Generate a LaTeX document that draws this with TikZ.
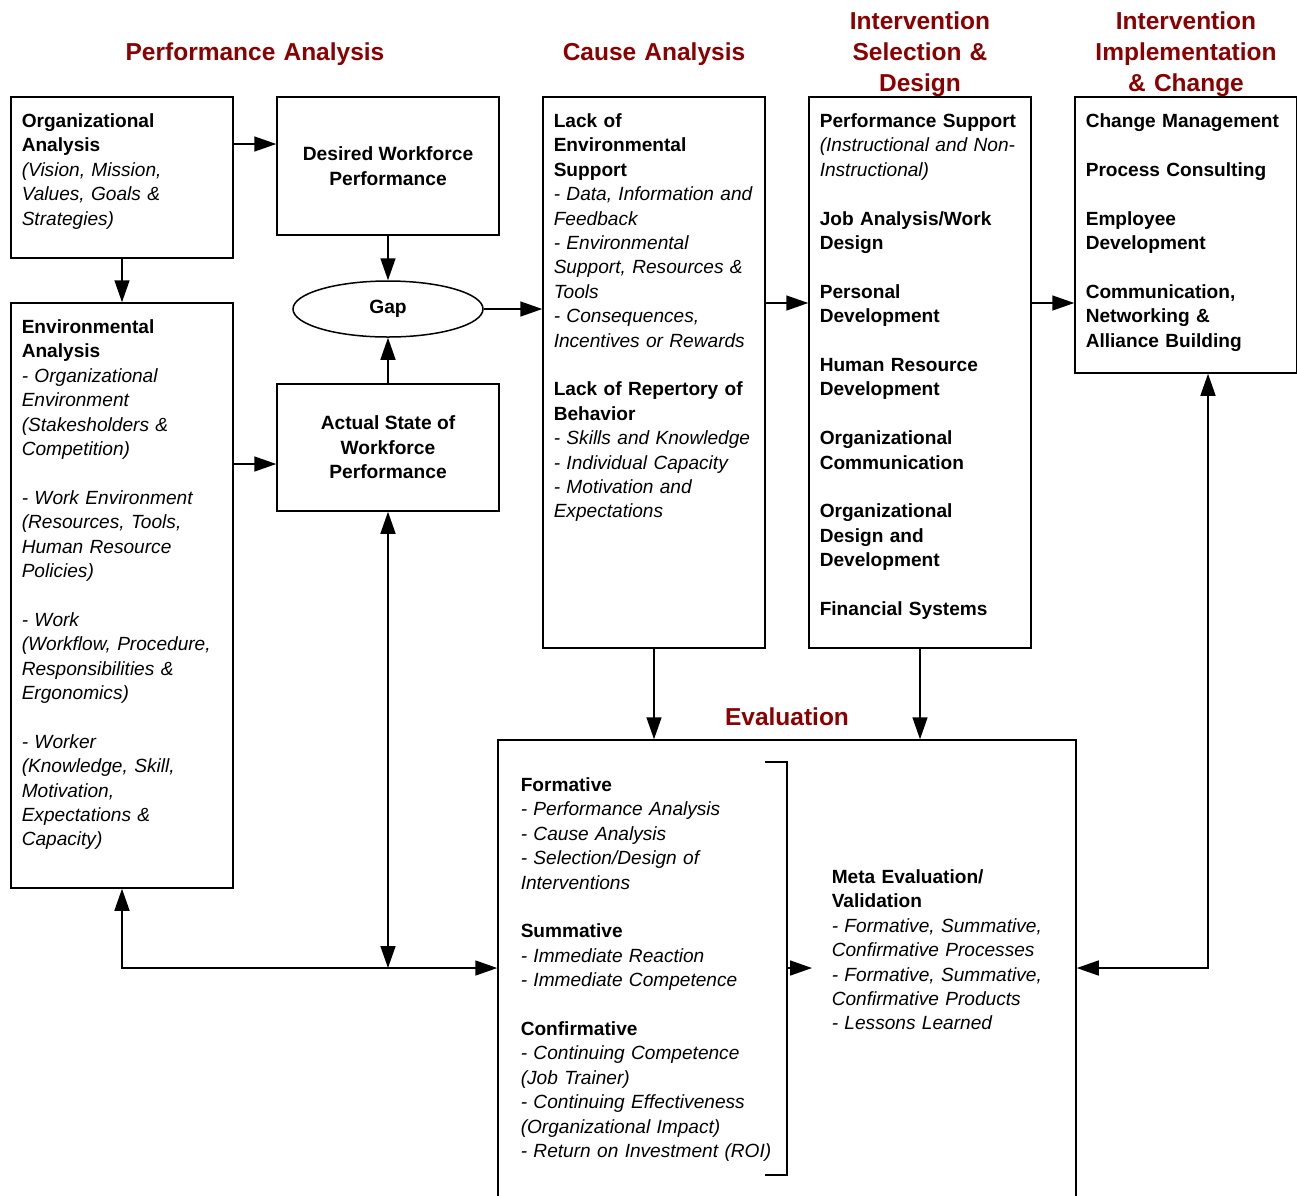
\documentclass[tikz,border=0pt]{standalone}
\usepackage{fontspec}
\setmainfont{Liberation Sans}
\usetikzlibrary{arrows.meta,shapes.geometric}
\definecolor{hdrred}{RGB}{139,0,0}
\tikzset{
  every picture/.style={line width=1.5pt},
  box/.style={draw=black, line width=1.5pt, rectangle, inner sep=0pt},
  ctext/.style={align=center, font=\fontsize{19.2}{24.4}\selectfont\bfseries},
  ltext/.style={anchor=base west, inner sep=0pt, text width=270pt, align=left, font=\fontsize{19.1}{24.4}\selectfont},
  hdr/.style={anchor=base, inner sep=0pt, text width=320pt, align=center, text=hdrred, font=\fontsize{24.5}{31}\selectfont\bfseries},
  arr/.style={-{Triangle[length=22pt,width=15pt]}},
  darr/.style={{Triangle[length=22pt,width=15pt]}-{Triangle[length=22pt,width=15pt]}}
}
\newcommand{\bl}{\\ \mbox{}\\}
\begin{document}
\begin{tikzpicture}[x=1pt,y=-1pt]
\useasboundingbox (0,0) rectangle (1297,1195);
\clip (0,0) rectangle (1297,1195);

% headers
\node[hdr] (hPA) at (255,60) {Performance Analysis};
\node[hdr] (hCA) at (654,60) {Cause Analysis};
\node[hdr] (hIS) at (920,29) {Intervention\\Selection \&\\Design};
\node[hdr] (hII) at (1186,29) {Intervention\\Implementation\\\& Change};
\node[hdr] (hEv) at (787,725) {Evaluation};

% boxes
\node[box, minimum width=222pt, minimum height=161pt] (org) at (122,177.5) {};
\node[box, ctext, minimum width=222pt, minimum height=138pt] (desired) at (388,166) {Desired Workforce\\Performance};
\node[box, minimum width=222pt, minimum height=585pt] (env) at (122,595.5) {};
\node[box, ctext, minimum width=222pt, minimum height=127pt] (actual) at (388,447.5) {Actual State of\\Workforce\\Performance};
\node[draw=black, line width=1.5pt, ellipse, ctext, inner sep=0pt, minimum width=190pt, minimum height=56pt] (gap) at (388,309) {Gap};
\node[box, minimum width=222pt, minimum height=551pt] (cause) at (654,372.5) {};
\node[box, minimum width=222pt, minimum height=551pt] (interv) at (920,372.5) {};
\node[box, minimum width=222pt, minimum height=276pt] (iic) at (1186,235) {};
\node[box, minimum width=578pt, minimum height=520pt] (eval) at (787,1000) {};

% texts
\node[ltext] (torg) at (21,127.5) {\textbf{Organizational}\\\textbf{Analysis}\\\textit{(Vision, Mission,}\\\textit{Values, Goals \&}\\\textit{Strategies)}};

\node[ltext] (tenv) at (21,333.5) {\textbf{Environmental}\\\textbf{Analysis}\\\textit{- Organizational}\\\textit{Environment}\\\textit{(Stakesholders \&}\\\textit{Competition)}\bl
\textit{- Work Environment}\\\textit{(Resources, Tools,}\\\textit{Human Resource}\\\textit{Policies)}\bl
\textit{- Work}\\\textit{(Workflow, Procedure,}\\\textit{Responsibilities \&}\\\textit{Ergonomics)}\bl
\textit{- Worker}\\\textit{(Knowledge, Skill,}\\\textit{Motivation,}\\\textit{Expectations \&}\\\textit{Capacity)}};

\node[ltext] (tcause) at (553,127.5) {\textbf{Lack of}\\\textbf{Environmental}\\\textbf{Support}\\\textit{- Data, Information and}\\\textit{Feedback}\\\textit{- Environmental}\\\textit{Support, Resources \&}\\\textit{Tools}\\\textit{- Consequences,}\\\textit{Incentives or Rewards}\bl
\textbf{Lack of Repertory of}\\\textbf{Behavior}\\\textit{- Skills and Knowledge}\\\textit{- Individual Capacity}\\\textit{- Motivation and}\\\textit{Expectations}};

\node[ltext] (tinterv) at (819,127.5) {\textbf{Performance Support}\\\textit{(Instructional and Non-}\\\textit{Instructional)}\bl
\textbf{Job Analysis/Work}\\\textbf{Design}\bl
\textbf{Personal}\\\textbf{Development}\bl
\textbf{Human Resource}\\\textbf{Development}\bl
\textbf{Organizational}\\\textbf{Communication}\bl
\textbf{Organizational}\\\textbf{Design and}\\\textbf{Development}\bl
\textbf{Financial Systems}};

\node[ltext] (tiic) at (1085,127.5) {\textbf{Change Management}\bl
\textbf{Process Consulting}\bl
\textbf{Employee}\\\textbf{Development}\bl
\textbf{Communication,}\\\textbf{Networking \&}\\\textbf{Alliance Building}};

\node[ltext] (tevl) at (520,791.5) {\textbf{Formative}\\\textit{- Performance Analysis}\\\textit{- Cause Analysis}\\\textit{- Selection/Design of}\\\textit{Interventions}\bl
\textbf{Summative}\\\textit{- Immediate Reaction}\\\textit{- Immediate Competence}\bl
\textbf{Confirmative}\\\textit{- Continuing Competence}\\\textit{(Job Trainer)}\\\textit{- Continuing Effectiveness}\\\textit{(Organizational Impact)}\\\textit{- Return on Investment (ROI)}};

\node[ltext] (tevr) at (831,883.5) {\textbf{Meta Evaluation/}\\\textbf{Validation}\\\textit{- Formative, Summative,}\\\textit{Confirmative Processes}\\\textit{- Formative, Summative,}\\\textit{Confirmative Products}\\\textit{- Lessons Learned}};

% helper coordinates
\coordinate (yA) at (0,144);
\coordinate (yB) at (0,464);
\coordinate (yC) at (0,303);
\coordinate (yD) at (0,968);
\coordinate (xR) at (1208,0);
\coordinate (brTop) at (765,762);
\coordinate (brBot) at (765,1175);
\coordinate (brMid) at (787,968);
\coordinate (brTip) at (812,968);

% connectors
\draw[arr] (org.east |- yA) -- (desired.west |- yA);
\draw[arr] (org.south) -- (env.north);
\draw[arr] (env.east |- yB) -- (actual.west |- yB);
\draw[arr] (desired.south) -- (gap.north);
\draw[arr] (actual.north) -- (gap.south);
\draw[arr] (gap.east) -- (gap.east -| cause.west);
\draw[arr] (cause.east |- yC) -- (interv.west |- yC);
\draw[arr] (interv.east |- yC) -- (iic.west |- yC);
\draw[arr] (cause.south) -- (cause.south |- eval.north);
\draw[arr] (interv.south) -- (interv.south |- eval.north);
\draw[darr] (env.south) |- (eval.west |- yD);
\draw[darr] (actual.south) -- (actual.south |- yD);
\draw[darr] (eval.east |- yD) -| (xR |- iic.south);

% bracket
\draw (brTop) -- (brTop -| brMid) -- (brBot -| brMid) -- (brBot);
\draw[arr] (brMid) -- (brTip);
\end{tikzpicture}
\end{document}
